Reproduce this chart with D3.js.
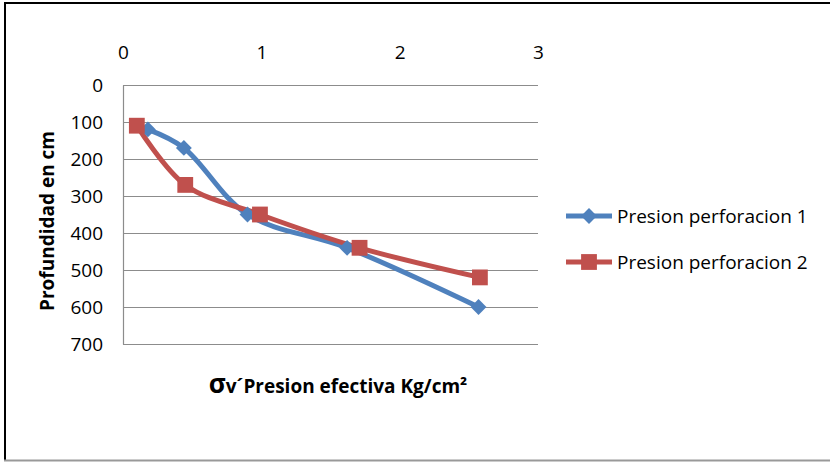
<!DOCTYPE html>
<html>
<head>
<meta charset="utf-8">
<script src="https://cdn.jsdelivr.net/npm/d3@7"></script>
<style>
  body { margin: 0; background: #fff; }
  svg { display: block; font-family: "Open Sans", "Noto Sans", sans-serif; }
</style>
</head>
<body>
<svg width="830" height="462"></svg>
<script>
const seriesNames = ['Presion perforacion 1', 'Presion perforacion 2']
const presion1 = [0.18, 0.44, 0.9, 1.62, 2.57]
const profundidad1 = [120, 170, 350, 440, 600]
const presion2 = [0.1, 0.45, 0.99, 1.71, 2.58]
const profundidad2 = [110, 270, 350, 440, 520]
const xTicks = [0, 1, 2, 3]
const yTicks = [0, 100, 200, 300, 400, 500, 600, 700]
const colors = ['#4F81BD', '#C0504D']

const svg = d3.select('svg')
const width = +svg.attr('width')
const height = +svg.attr('height')

const margin = { top: 85, left: 123 }
const innerWidth = 415
const innerHeight = 259
const fs = 19

// outer frame
svg.append('line').attr('x1', 5).attr('x2', 5).attr('y1', 2).attr('y2', 461)
  .attr('stroke', '#000').attr('stroke-width', 2)
svg.append('line').attr('x1', 4).attr('x2', width).attr('y1', 3).attr('y2', 3)
  .attr('stroke', '#000').attr('stroke-width', 2)
svg.append('line').attr('x1', 4).attr('x2', width).attr('y1', 460.5).attr('y2', 460.5)
  .attr('stroke', '#999').attr('stroke-width', 2)

const g = svg.append('g')
  .attr('transform', 'translate(' + margin.left + ',' + margin.top + ')')

const xScale = d3.scaleLinear().domain([0, 3]).range([0, innerWidth])
const yScale = d3.scaleLinear().domain([0, 700]).range([0, innerHeight])

// gridlines
g.selectAll('.grid').data(yTicks).join('line')
  .attr('class', 'grid')
  .attr('x1', 0).attr('x2', innerWidth)
  .attr('y1', d => Math.round(yScale(d)) + 0.5)
  .attr('y2', d => Math.round(yScale(d)) + 0.5)
  .attr('stroke', '#8c8c8c').attr('stroke-width', 1.2)

// y axis
const yAxis = g.append('g')
  .call(d3.axisLeft(yScale).tickValues(yTicks).tickSize(0).tickPadding(20))
yAxis.select('.domain').attr('stroke', '#8c8c8c').attr('stroke-width', 1.2)
yAxis.selectAll('text').attr('font-size', fs).attr('fill', '#000')
  .attr('font-family', '"Open Sans", sans-serif')

// x axis on top
const xAxis = g.append('g')
  .call(d3.axisTop(xScale).tickValues(xTicks).tickFormat(d3.format('d')).tickSize(0))
xAxis.select('.domain').remove()
xAxis.selectAll('text').attr('font-size', fs).attr('fill', '#000')
  .attr('font-family', '"Open Sans", sans-serif')
  .attr('y', -26).attr('dy', 0)

const line = d3.line()
  .x(d => xScale(d[0]))
  .y(d => yScale(d[1]))
  .curve(d3.curveCatmullRom.alpha(0.5))

const data = [
  presion1.map((x, i) => [x, profundidad1[i]]),
  presion2.map((x, i) => [x, profundidad2[i]])
]

const diamond = d3.symbol().type(d3.symbolDiamond2).size(160)
const square = d3.symbol().type(d3.symbolSquare).size(250)
const symbols = [diamond, square]

data.forEach((pts, s) => {
  g.append('path').datum(pts)
    .attr('d', line)
    .attr('fill', 'none')
    .attr('stroke', colors[s])
    .attr('stroke-width', 5)
    .attr('stroke-linejoin', 'round')
    .attr('stroke-linecap', 'round')
})
data.forEach((pts, s) => {
  g.selectAll('.m' + s).data(pts).join('path')
    .attr('class', 'm' + s)
    .attr('transform', d => 'translate(' + xScale(d[0]) + ',' + yScale(d[1]) + ')')
    .attr('d', symbols[s]())
    .attr('fill', colors[s])
})

// axis titles
svg.append('text')
  .attr('transform', 'translate(54,221) rotate(-90)')
  .attr('text-anchor', 'middle')
  .attr('font-size', fs).attr('font-weight', 'bold')
  .text('Profundidad en cm')

const xTitle = svg.append('text')
  .attr('x', 338).attr('y', 393)
  .attr('text-anchor', 'middle')
  .attr('font-size', fs).attr('font-weight', 'bold')
xTitle.append('tspan').attr('font-size', 26).text('σ')
xTitle.append('tspan').text('v´Presion efectiva Kg/cm²')

// legend
const legend = svg.append('g').attr('transform', 'translate(566,216)')
seriesNames.forEach((name, i) => {
  const lg = legend.append('g').attr('transform', 'translate(0,' + i * 46 + ')')
  lg.append('line').attr('x1', 0).attr('x2', 46).attr('y1', 0).attr('y2', 0)
    .attr('stroke', colors[i]).attr('stroke-width', 5)
  lg.append('path').attr('transform', 'translate(23,0)')
    .attr('d', symbols[i]()).attr('fill', colors[i])
  lg.append('text').attr('x', 51).attr('y', 7)
    .attr('font-size', fs)
    .text(name)
})
</script>
</body>
</html>
